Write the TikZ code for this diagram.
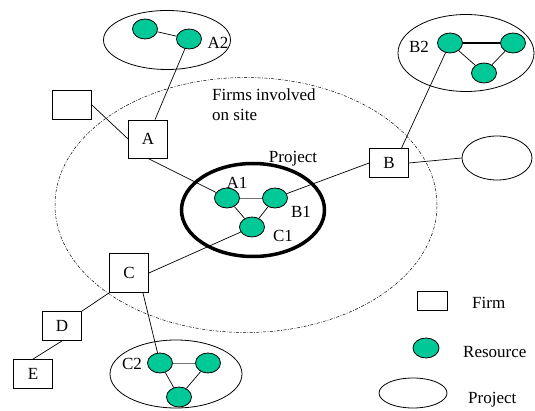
\documentclass[tikz,border=0pt]{standalone}
\usepackage{fontspec}
\setmainfont{Liberation Serif}
\usetikzlibrary{shapes.geometric}
\definecolor{res}{RGB}{0,200,150}
\begin{document}
\begin{tikzpicture}[x=1pt,y=-1pt,
  firm/.style={draw, line width=0.8pt, minimum width=39pt, minimum height=29pt, inner sep=0pt, font=\fontsize{17}{20}\selectfont},
  resource/.style={ellipse, draw, line width=0.8pt, fill=res, minimum width=25pt, minimum height=20pt, inner sep=0pt},
  group/.style={ellipse, draw, line width=0.8pt, inner sep=0pt},
  lbl/.style={font=\fontsize{17}{20}\selectfont, inner sep=0pt},
  link/.style={line width=0.7pt},
  glink/.style={line width=0.7pt, black!55}]
\useasboundingbox (0,0) rectangle (535,411);
% big dashed ellipse: firms involved on site
\node[ellipse, draw, line width=0.5pt, dash pattern=on 3pt off 1.5pt on 0.8pt off 1.5pt,
      minimum width=382pt, minimum height=255pt, inner sep=0pt] (site) at (246,205) {};
\node[lbl, anchor=west, align=left] (sitelbl) at (212,105) {Firms involved\\on site};
% project ellipse
\node[ellipse, draw, line width=3.5pt, minimum width=143pt, minimum height=93pt, inner sep=0pt] (proj) at (253,210) {};
\node[lbl] (projlbl) at (293,159) {Project};
% resources in project
\node[resource] (a1) at (227,198) {};
\node[resource] (b1) at (275,198) {};
\node[resource] (c1) at (252,227) {};
\node[lbl] (a1l) at (237,183) {A1};
\node[lbl] (b1l) at (301,212) {B1};
\node[lbl] (c1l) at (283,236) {C1};
\draw[glink] (a1) -- (b1);
\draw[link] (a1) -- (c1);
\draw[link] (b1) -- (c1);
% firms
\node[firm, minimum height=38pt] (fa) at (148,139) {A};
\node[firm] (fx) at (72,105) {};
\node[firm] (fb) at (389,163) {B};
\node[firm, minimum height=39pt] (fc) at (129,273) {C};
\node[firm] (fd) at (62,326) {D};
\node[firm] (fe) at (33,374) {E};
% A2 group
\node[group, minimum width=127pt, minimum height=59pt] (a2e) at (167,40) {};
\node[resource] (a2a) at (145,29) {};
\node[resource] (a2b) at (189,39) {};
\node[lbl] (a2l) at (218,43) {A2};
\draw[link] (a2a) -- (a2b);
% B2 group
\node[group, minimum width=136pt, minimum height=77pt] (b2e) at (466,53) {};
\node[resource] (b2a) at (450,43) {};
\node[resource] (b2b) at (513,43) {};
\node[resource] (b2c) at (484,73) {};
\node[lbl] (b2l) at (419,47) {B2};
\draw[line width=1.1pt] (b2a) -- (b2b);
\draw[link] (b2a) -- (b2c);
\draw[link] (b2b) -- (b2c);
% C2 group
\node[group, minimum width=132pt, minimum height=68pt] (c2e) at (176,374) {};
\node[resource] (c2a) at (160,363) {};
\node[resource] (c2b) at (208,363) {};
\node[resource] (c2c) at (179,397) {};
\node[lbl] (c2l) at (132,364) {C2};
\draw[glink] (c2a) -- (c2b);
\draw[link] (c2a) -- (c2c);
\draw[link] (c2b) -- (c2c);
% external project
\node[group, minimum width=70pt, minimum height=44pt] (ext) at (497,158) {};
% connectors
\draw[link] (a2b) -- (fa.70);
\draw[link] (fx.east) -- (fa.west);
\draw[link] (fa.south) -- (a1);
\draw[link] (b2a) -- (fb.50);
\draw[link] (fb.east) -- (ext.west);
\draw[link] (fb.west) -- (b1);
\draw[link] (fc.east) -- (c1);
\draw[link] (fc.-55) -- (c2a);
\draw[link] (fc.south west) -- (fd.north east);
\draw[link] (fd.south) -- (fe.north);
% legend
\node[firm, minimum width=30pt, minimum height=19pt] (lgfirm) at (432,301) {};
\node[lbl, anchor=west] (lgfirmt) at (472,303) {Firm};
\node[resource, minimum width=26pt] (lgres) at (426,348) {};
\node[lbl, anchor=west] (lgrest) at (463,352) {Resource};
\node[group, minimum width=68pt, minimum height=30pt] (lgproj) at (413,393) {};
\node[lbl, anchor=west] (lgprojt) at (468,400) {Project};
\end{tikzpicture}
\end{document}
